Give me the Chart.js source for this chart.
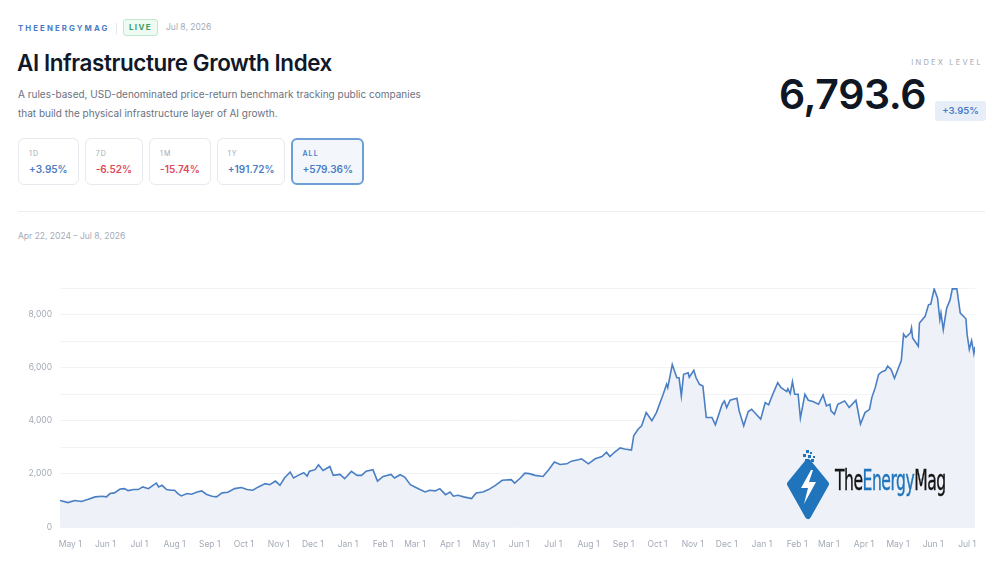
<!DOCTYPE html>
<html>
<head>
<meta charset="utf-8">
<script src="https://cdn.jsdelivr.net/npm/chart.js@4"></script>
<style>
  html, body { margin: 0; padding: 0; background: #fff; }
  body { width: 991px; height: 564px; position: relative; overflow: hidden; font-family: Inter, "Noto Sans", sans-serif; color: #111827; }
  .abs { position: absolute; }
  .brand { left: 18px; top: 23px; font-size: 7.8px; font-weight: 700; letter-spacing: 2.1px; color: #4a7cc4; }
  .sep { left: 116px; top: 23px; width: 1px; height: 11px; background: #e3e6eb; }
  .live { left: 123px; top: 19px; width: 33px; height: 15px; border: 1px solid #bfe8cf; background: #eefaf2; border-radius: 3px;
          font-size: 8px; font-weight: 700; letter-spacing: 1.4px; color: #3f9e63; text-align: center; line-height: 15px; }
  .date { left: 166px; top: 22px; font-size: 8.5px; color: #a3aab6; }
  h1 { position: absolute; left: 17px; top: 49px; margin: 0; font-size: 22.4px; font-weight: 600; letter-spacing: -0.4px; color: #111827; }
  .sub { left: 18px; top: 85px; width: 408px; font-size: 10px; line-height: 19px; color: #6b7280; }
  .btns { left: 18px; top: 138px; display: flex; gap: 6px; }
  .btn { box-sizing: border-box; height: 47px; border: 1px solid #e6e9ee; border-radius: 6px; padding: 10px 10px 0 10px; }
  .btn .k { font-size: 7px; letter-spacing: 1.1px; color: #a3aab6; }
  .btn .v { font-size: 10px; font-weight: 600; margin-top: 5px; }
  .btn.on { border: 2px solid #6f9dd6; background: #f3f6fb; padding: 9px 9px 0 9px; }
  .btn.on .k { color: #4a7cc4; font-weight: 600; }
  .up { color: #4a7cc4; }
  .dn { color: #e0495a; }
  .lvl-k { right: 8px; top: 58px; font-size: 7.5px; letter-spacing: 2.2px; color: #a3aab6; }
  .lvl { left: 779px; top: 69px; font-size: 41px; font-weight: 600; letter-spacing: -0.4px; color: #0f1624; }
  .badge { left: 935px; top: 101px; width: 51px; height: 20px; background: #e7eef8; border-radius: 3px; font-size: 9.5px; font-weight: 600;
           color: #4a7cc4; text-align: center; line-height: 20px; }
  .rule { left: 18px; top: 211px; width: 967px; height: 1px; background: #eceef2; }
  .range { left: 18px; top: 231px; font-size: 8.5px; color: #a3aab6; }
  #wrap { position: absolute; left: 0; top: 275px; width: 985px; height: 280px; }
  .logo { left: 784px; top: 450px; width: 170px; height: 70px; z-index: 2; }
  .logo-t { position: absolute; left: 51px; top: 14px; font-family: "DejaVu Sans Condensed", "Liberation Sans Narrow", sans-serif;
            font-size: 28px; letter-spacing: -0.8px; color: #141414; white-space: nowrap; transform: scaleX(0.62); transform-origin: 0 0;
            -webkit-text-stroke: 0.4px currentColor; }
  .logo-t span { color: #1f74bb; }
</style>
</head>
<body>
<div class="abs brand">THEENERGYMAG</div>
<div class="abs sep"></div>
<div class="abs live">LIVE</div>
<div class="abs date">Jul 8, 2026</div>
<h1>AI Infrastructure Growth Index</h1>
<div class="abs sub">A rules-based, USD-denominated price-return benchmark tracking public companies that build the physical infrastructure layer of AI growth.</div>
<div class="abs btns" id="btns"></div>
<div class="abs lvl-k">INDEX LEVEL</div>
<div class="abs lvl">6,793.6</div>
<div class="abs badge">+3.95%</div>
<div class="abs rule"></div>
<div class="abs range">Apr 22, 2024 – Jul 8, 2026</div>
<div id="wrap"><canvas id="grafico"></canvas></div>
<div class="abs logo">
  <svg width="50" height="70" viewBox="0 0 50 70">
    <rect x="22" y="0" width="3" height="3" fill="#1f74bb"/>
    <rect x="26" y="2" width="2" height="2" fill="#1f74bb"/>
    <rect x="19" y="4" width="3" height="3" fill="#1f74bb"/>
    <rect x="24" y="5" width="3" height="3" fill="#1f74bb"/>
    <rect x="29" y="6" width="2" height="2" fill="#1f74bb"/>
    <rect x="21" y="9" width="3" height="3" fill="#1f74bb"/>
    <rect x="27" y="9" width="3" height="3" fill="#1f74bb"/>
    <path d="M24 12 L42 34 L24 66 L6 34 Z" fill="#1f74bb" stroke="#1f74bb" stroke-width="6" stroke-linejoin="round"/>
    <path d="M27 20 L17 38 L24 38 L20 54 L32 32 L25 32 L29 20 Z" fill="#fff"/>
  </svg>
  <div class="logo-t">The<span>Energy</span>Mag</div>
</div>

<script>
// periodos y variaciones
const periodos = ['1D', '7D', '1M', '1Y', 'ALL'];
const variaciones = ['+3.95%', '-6.52%', '-15.74%', '+191.72%', '+579.36%'];

// dias desde el 22 abr 2024 y nivel del indice
const dias = [0, 7, 13, 19, 25, 31, 37, 41, 44, 48, 53, 57, 60, 65, 69, 73, 78, 82, 85, 87, 90, 94, 98, 101, 104, 107,
  112, 116, 121, 125, 129, 134, 138, 143, 148, 154, 160, 165, 170, 175, 181, 185, 190, 194, 198, 203, 206, 210, 215,
  218, 220, 225, 228, 232, 238, 241, 247, 251, 257, 262, 266, 270, 276, 280, 285, 292, 295, 300, 304, 309, 313, 317,
  322, 326, 331, 335, 340, 344, 347, 351, 356, 363, 367, 373, 378, 384, 390, 398, 401, 406, 410, 414, 419, 426, 431,
  436, 441, 447, 451, 457, 460, 464, 466, 472, 478, 482, 485, 489, 494, 498, 504, 506, 510, 513, 517, 519, 522, 526,
  532, 535, 536, 540, 544, 546, 548, 550, 554, 555, 559, 561, 564, 567, 570, 575, 578, 584, 586, 588, 591, 597, 599,
  603, 607, 610, 614, 618, 622, 625, 628, 633, 636, 641, 642, 644, 646, 648, 651, 653, 657, 660, 664, 669, 673, 676,
  679, 680, 683, 686, 692, 696, 702, 706, 710, 714, 716, 719, 722, 725, 728, 730, 733, 736, 742, 744, 746, 750, 751,
  752, 757, 758, 763, 766, 768, 771, 774, 776, 777, 779, 782, 785, 787, 791, 794, 799, 800, 802, 804, 806, 807];
const niveles = [1000, 920, 1000, 960, 1045, 1135, 1160, 1135, 1260, 1285, 1430, 1445, 1370, 1410, 1410, 1510, 1445,
  1570, 1655, 1510, 1570, 1410, 1385, 1385, 1260, 1170, 1260, 1235, 1320, 1360, 1235, 1160, 1135, 1285, 1310, 1445,
  1485, 1410, 1385, 1510, 1635, 1595, 1730, 1570, 1845, 2070, 1845, 1945, 2045, 1920, 2105, 2160, 2345, 2130, 2280,
  1945, 1980, 1820, 2095, 1945, 1945, 2105, 2160, 1730, 1905, 1980, 1845, 1970, 1880, 1595, 1510, 1420, 1320, 1385,
  1360, 1445, 1220, 1320, 1160, 1195, 1135, 1070, 1285, 1320, 1410, 1570, 1760, 1785, 1655, 1845, 2030, 2010, 1945,
  1905, 2160, 2445, 2355, 2380, 2480, 2530, 2570, 2445, 2380, 2570, 2655, 2815, 2655, 2815, 2980, 2940, 2900, 3440,
  3690, 3815, 4310, 4190, 4000, 4310, 5000, 5375, 5250, 6120, 5620, 5620, 4935, 5750, 5810, 5640, 5900, 5620, 5375,
  5310, 4125, 4125, 3850, 4625, 4750, 4500, 4775, 4850, 4375, 3815, 4350, 4435, 4250, 4065, 4685, 4600, 4935, 5435,
  5250, 5100, 5210, 5025, 5475, 5000, 5000, 4100, 5000, 4775, 4725, 4625, 4975, 4560, 4625, 4375, 4250, 4625, 4750,
  4500, 4775, 3875, 4310, 4435, 4875, 5250, 5750, 5850, 5900, 6060, 5935, 5600, 6270, 7270, 7145, 7310, 7500, 7120,
  6810, 7685, 7935, 8370, 8400, 8970, 8620, 7810, 8060, 7435, 8245, 8555, 8970, 8970, 8060, 7845, 7270, 6685, 7020,
  6535, 6794];

// marcas del eje x
const fechasTicks = ['2024-05-01', '2024-06-01', '2024-07-01', '2024-08-01', '2024-09-01', '2024-10-01', '2024-11-01',
  '2024-12-01', '2025-01-01', '2025-02-01', '2025-03-01', '2025-04-01', '2025-05-01', '2025-06-01', '2025-07-01',
  '2025-08-01', '2025-09-01', '2025-10-01', '2025-11-01', '2025-12-01', '2026-01-01', '2026-02-01', '2026-03-01',
  '2026-04-01', '2026-05-01', '2026-06-01', '2026-07-01'];
const etiquetasTicks = ['May 1', 'Jun 1', 'Jul 1', 'Aug 1', 'Sep 1', 'Oct 1', 'Nov 1', 'Dec 1', 'Jan 1', 'Feb 1',
  'Mar 1', 'Apr 1', 'May 1', 'Jun 1', 'Jul 1', 'Aug 1', 'Sep 1', 'Oct 1', 'Nov 1', 'Dec 1', 'Jan 1', 'Feb 1', 'Mar 1',
  'Apr 1', 'May 1', 'Jun 1', 'Jul 1'];

// botones de periodo
const btns = document.getElementById('btns');
periodos.forEach(function (p, i) {
    const b = document.createElement('div');
    b.className = 'btn' + (p === 'ALL' ? ' on' : '');
    const cls = variaciones[i].startsWith('-') ? 'dn' : 'up';
    b.innerHTML = '<div class="k">' + p + '</div><div class="v ' + cls + '">' + variaciones[i] + '</div>';
    btns.appendChild(b);
});

const inicio = Date.UTC(2024, 3, 22);
const diaDe = s => Math.round((Date.parse(s) - inicio) / 86400000);
const diasTicks = fechasTicks.map(diaDe);

const ctx = document.getElementById('grafico').getContext('2d');
new Chart(ctx, {
    type: 'line',
    data: {
        datasets: [{
            data: dias.map((d, i) => ({ x: d, y: niveles[i] })),
            borderColor: '#4a7fc4',
            borderWidth: 1.6,
            backgroundColor: '#eef2f8',
            fill: 'origin',
            pointRadius: 0,
            tension: 0
        }]
    },
    options: {
        responsive: true,
        maintainAspectRatio: false,
        animation: false,
        layout: { padding: { top: 11, right: 10 } },
        plugins: { legend: { display: false }, tooltip: { enabled: false } },
        scales: {
            x: {
                type: 'linear',
                min: 0,
                max: 807,
                afterBuildTicks: axis => { axis.ticks = diasTicks.map(v => ({ value: v })); },
                afterFit: axis => { axis.height = 28; },
                grid: { display: false },
                border: { display: false },
                ticks: {
                    autoSkip: false,
                    maxRotation: 0,
                    padding: 4,
                    color: '#a3aab6',
                    font: { family: 'Inter', size: 8.5 },
                    callback: (v, i) => etiquetasTicks[i]
                }
            },
            y: {
                min: 0,
                max: 9000,
                afterFit: axis => { axis.width = 60; },
                grid: { color: '#f1f3f6', drawTicks: false },
                border: { display: false },
                ticks: {
                    stepSize: 1000,
                    padding: 8,
                    color: '#a3aab6',
                    font: { family: 'Inter', size: 8.5 },
                    callback: v => v % 2000 === 0 ? v.toLocaleString('en-US') : ''
                }
            }
        }
    }
});
</script>
</body>
</html>
